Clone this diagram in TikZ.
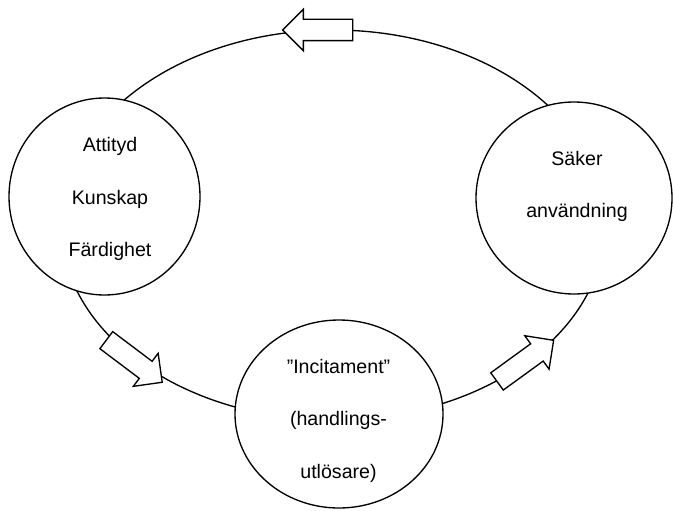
\documentclass[tikz,border=0pt]{standalone}
\usepackage{fontspec}
\setmainfont{Liberation Sans}
\usetikzlibrary{shapes.geometric,shapes.arrows}

\tikzset{every picture/.style={line width=1pt}}
\tikzset{
  bubble/.style={draw,fill=white,ellipse,inner sep=0pt},
  cyclearrow/.style={draw,fill=white,single arrow,single arrow head extend=7.5pt,
    single arrow head indent=0pt,inner sep=7.5pt,minimum height=52.5pt},
  bubbletext/.style={align=center,inner sep=0pt,font=\fontsize{14.7}{39.4}\selectfont}
}

\begin{document}
\begin{tikzpicture}[x=0.75pt,y=0.75pt,yscale=-1,xscale=1]
	%set diagram size to the reference
	\useasboundingbox (0,0) rectangle (673,510);
	
	%the cycle
	\draw (333,225) ellipse (272 and 195);
	
	%Block arrows along the cycle
	\node [cyclearrow,rotate=180] (topArrow) at (323,30) {};
	\node [cyclearrow,rotate=-37] (leftArrow) at (130,358) {};
	\node [cyclearrow,rotate=36] (rightArrow) at (521,364) {};
	
	%Circles
	\node [bubble,minimum width=143.25pt,minimum height=147.75pt] (kunskap) at (104.5,196.5) {};
	\node [bubble,minimum width=147pt,minimum height=144pt] (anvandning) at (574,198) {};
	\node [bubble,minimum width=156pt,minimum height=141pt] (incitament) at (339,414) {};
	
	%Texts
	\node [bubbletext] (kunskapText) at (110,199) {Attityd\\Kunskap\\Färdighet};
	\node [bubbletext] (anvandningText) at (577,186.5) {Säker\\användning};
	\node [bubbletext] (incitamentText) at (338.5,420.5) {”Incitament”\\(handlings-\\utlösare)};
	
\end{tikzpicture}
\end{document}
